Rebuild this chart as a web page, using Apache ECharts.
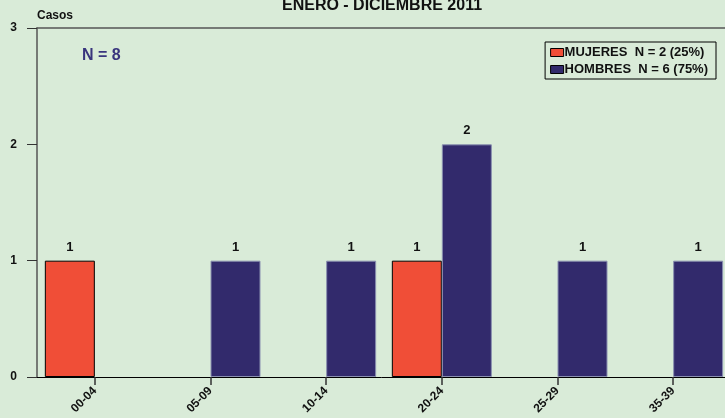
<!DOCTYPE html>
<html>
<head>
<meta charset="utf-8">
<script src="https://cdn.jsdelivr.net/npm/echarts@6/dist/echarts.min.js"></script>
<style>
  html, body { margin: 0; padding: 0; background: #d9ebd8; }
  #chart { width: 725px; height: 418px; }
</style>
</head>
<body>
<div id="chart"></div>
<script>
var categories = ["00-04", "05-09", "10-14", "20-24", "25-29", "35-39"];
var mujeres = [1, 0, 0, 1, 0, 0];
var hombres = [0, 1, 1, 2, 1, 1];
var yTicks = [0, 1, 2, 3];
var nombreMujeres = "MUJERES  N = 2 (25%)";
var nombreHombres = "HOMBRES  N = 6 (75%)";

var chart = echarts.init(document.getElementById("chart"));
var font = "Liberation Sans, Arial, sans-serif";

// los ceros no se dibujan
function sinCeros(arr) {
  return arr.map(function (v) { return v > 0 ? v : null; });
}

var etiqueta = {
  show: true,
  position: "top",
  distance: 7,
  fontFamily: font,
  fontSize: 13,
  fontWeight: "bold",
  color: "#111"
};

var option = {
  backgroundColor: "#d9ebd8",
  animation: false,
  title: [
    {
      text: "ENERO - DICIEMBRE 2011",
      left: 277,
      top: -7,
      textStyle: { fontFamily: font, fontSize: 16, fontWeight: "bold", color: "#111" }
    },
    {
      text: "N = 8",
      left: 77,
      top: 43,
      textStyle: { fontFamily: font, fontSize: 16, fontWeight: "bold", color: "#39357d" }
    }
  ],
  legend: {
    orient: "vertical",
    right: 9,
    top: 42,
    padding: [4, 8, 3, 5],
    itemGap: 4,
    itemWidth: 13,
    itemHeight: 8,
    borderColor: "#000",
    borderWidth: 1,
    icon: "rect",
    textStyle: { fontFamily: font, fontSize: 13, fontWeight: "bold", color: "#111", padding: [0, 0, 0, -4] },
    data: [
      { name: nombreMujeres, itemStyle: { borderColor: "#000", borderWidth: 1 } },
      { name: nombreHombres, itemStyle: { borderColor: "#000", borderWidth: 1 } }
    ]
  },
  grid: { left: 37, width: 694, top: 28, bottom: 41, outerBoundsMode: "none", containLabel: false },
  xAxis: [
    {
      type: "category",
      data: categories,
      axisLine: { lineStyle: { color: "#000", width: 1 } },
      axisTick: { show: true, alignWithLabel: true, length: 8, lineStyle: { color: "#333", width: 1.5 } },
      axisLabel: {
        rotate: 45,
        margin: 12,
        fontFamily: font,
        fontSize: 12,
        fontWeight: "bold",
        color: "#111"
      }
    },
    {
      type: "category",
      position: "top",
      data: categories,
      axisLine: { show: true, lineStyle: { color: "#555", width: 1.5 } },
      axisTick: { show: false },
      axisLabel: { show: false }
    }
  ],
  yAxis: {
    type: "value",
    min: 0,
    max: 3,
    interval: 1,
    name: "Casos",
    nameLocation: "end",
    nameGap: 6,
    nameTextStyle: { fontFamily: font, fontSize: 12, fontWeight: "bold", color: "#111", align: "left" },
    axisLine: { show: true, lineStyle: { color: "#555", width: 1.5 } },
    axisTick: { show: true, length: 10, lineStyle: { color: "#333" } },
    splitLine: { show: false },
    axisLabel: {
      margin: 20,
      fontFamily: font,
      fontSize: 12,
      fontWeight: "bold",
      color: "#111",
      formatter: function (v) { return yTicks.indexOf(v) >= 0 ? v : ""; }
    }
  },
  series: [
    {
      name: nombreMujeres,
      type: "bar",
      data: sinCeros(mujeres),
      barWidth: 50,
      barGap: "0%",
      itemStyle: { color: "#f04e37", borderColor: "#000", borderWidth: 1 },
      label: etiqueta
    },
    {
      name: nombreHombres,
      type: "bar",
      data: sinCeros(hombres),
      barWidth: 50,
      barGap: "0%",
      itemStyle: { color: "#322a6c", borderColor: "#8a90b0", borderWidth: 1 },
      label: etiqueta
    }
  ]
};

chart.setOption(option);
</script>
</body>
</html>
